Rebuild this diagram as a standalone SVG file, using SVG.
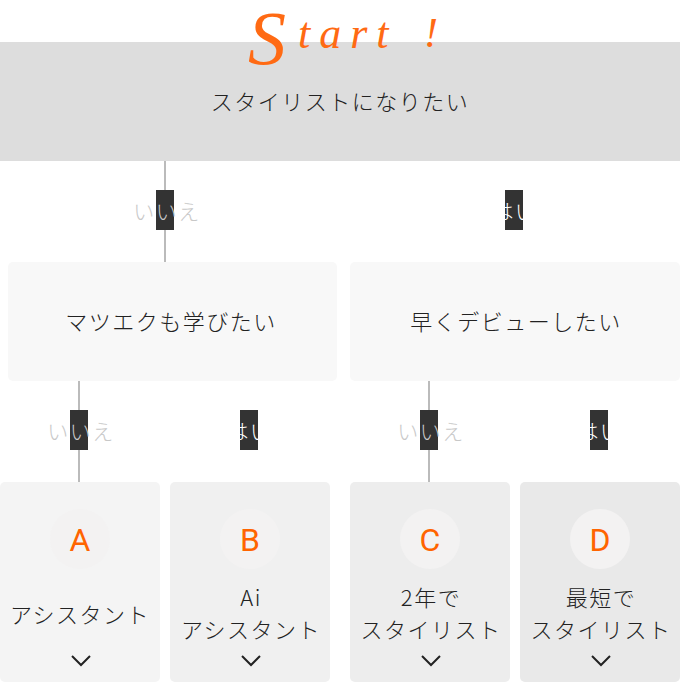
<svg xmlns="http://www.w3.org/2000/svg" width="680" height="682" viewBox="0 0 680 682">
<style>
.t{font-family:"Noto Sans CJK JP","Noto Sans",sans-serif;font-size:22px;font-weight:300;fill:#222;text-anchor:middle;letter-spacing:1.5px}
.no{font-family:"Noto Sans CJK JP",sans-serif;font-size:21px;font-weight:300;fill:#c8c8c8;text-anchor:middle;letter-spacing:1.5px}
.yes{font-family:"Noto Sans CJK JP",sans-serif;font-size:21px;font-weight:300;fill:#ffffff;text-anchor:middle;letter-spacing:1.5px}
.lbl{fill:#333333}
.ln{stroke:#bbbbbb;stroke-width:2;fill:none}
.lnw{stroke:#ffffff;stroke-width:2;fill:none}
.circ{fill:#f3f2f2}
.let{font-family:Roboto,"Liberation Sans",sans-serif;font-size:32px;fill:#ff6400;text-anchor:middle}
.chev{stroke:#222;stroke-width:2;fill:none}
.st{font-family:"Liberation Serif",serif;font-style:italic;fill:#ff6a13}
</style>
<rect width="680" height="682" fill="#ffffff"/>
<g id="start">
<rect x="0" y="42" width="680" height="119" fill="#dddddd"/>
<text class="t" x="340" y="110">スタイリストになりたい</text>
</g>
<g id="start-label">
<text class="st" x="248" y="64" font-size="76">S</text>
<text class="st" x="298" y="48" font-size="44" letter-spacing="9">tart</text>
<text class="st" x="424" y="47" font-size="42">!</text>
</g>
<g id="connectors">
<line class="ln" x1="165" y1="161" x2="165" y2="262"/>
<line class="lnw" x1="514" y1="161" x2="514" y2="262"/>
<line class="ln" x1="79" y1="381" x2="79" y2="482"/>
<line class="lnw" x1="249" y1="381" x2="249" y2="482"/>
<line class="ln" x1="429" y1="381" x2="429" y2="482"/>
<line class="lnw" x1="599" y1="381" x2="599" y2="482"/>
<rect class="lbl" x="156" y="190" width="18" height="40"/>
<text class="no" x="167" y="219">いいえ</text>
<rect class="lbl" x="505" y="190" width="18" height="40"/>
<text class="yes" x="515" y="219">はい</text>
<rect class="lbl" x="70" y="410" width="18" height="40"/>
<text class="no" x="81" y="439">いいえ</text>
<rect class="lbl" x="240" y="410" width="18" height="40"/>
<text class="yes" x="250" y="439">はい</text>
<rect class="lbl" x="420" y="410" width="18" height="40"/>
<text class="no" x="431" y="439">いいえ</text>
<rect class="lbl" x="590" y="410" width="18" height="40"/>
<text class="yes" x="600" y="439">はい</text>
</g>
<g id="q-matsueku">
<rect x="8" y="262" width="329" height="119" rx="5" fill="#f8f8f8"/>
<text class="t" x="171" y="330">マツエクも学びたい</text>
</g>
<g id="q-debut">
<rect x="350" y="262" width="330" height="119" rx="5" fill="#f8f8f8"/>
<text class="t" x="516" y="330">早くデビューしたい</text>
</g>
<g id="node-a">
<rect x="0" y="482" width="160" height="200" rx="5" fill="#f4f4f4"/>
<circle class="circ" cx="80" cy="539" r="30"/>
<text class="let" x="80" y="551">A</text>
<text class="t" x="80" y="623">アシスタント</text>
<polyline class="chev" points="72,656 81,665 90,656"/>
</g>
<g id="node-b">
<rect x="170" y="482" width="160" height="200" rx="5" fill="#f0f0f0"/>
<circle class="circ" cx="250" cy="539" r="30"/>
<text class="let" x="250" y="551">B</text>
<text class="t" x="251" y="606">Ai</text>
<text class="t" x="251" y="638">アシスタント</text>
<polyline class="chev" points="242,656 251,665 260,656"/>
</g>
<g id="node-c">
<rect x="350" y="482" width="160" height="200" rx="5" fill="#ededed"/>
<circle class="circ" cx="430" cy="539" r="30"/>
<text class="let" x="430" y="551">C</text>
<text class="t" x="431" y="606">2年で</text>
<text class="t" x="431" y="638">スタイリスト</text>
<polyline class="chev" points="422,656 431,665 440,656"/>
</g>
<g id="node-d">
<rect x="520" y="482" width="160" height="200" rx="5" fill="#e9e9e9"/>
<circle class="circ" cx="600" cy="539" r="30"/>
<text class="let" x="600" y="551">D</text>
<text class="t" x="601" y="606">最短で</text>
<text class="t" x="601" y="638">スタイリスト</text>
<polyline class="chev" points="592,656 601,665 610,656"/>
</g>
</svg>
